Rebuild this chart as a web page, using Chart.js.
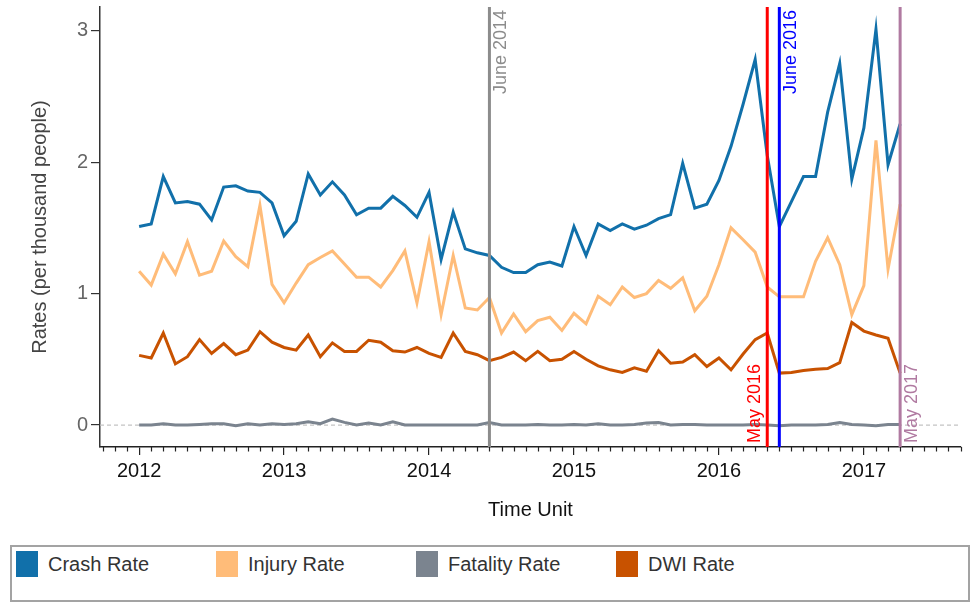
<!DOCTYPE html>
<html>
<head>
<meta charset="utf-8">
<script src="https://cdn.jsdelivr.net/npm/chart.js@4.4.1/dist/chart.umd.min.js"></script>
<style>
  html,body{margin:0;padding:0;background:#fff;}
  #wrap{position:relative;width:971px;height:603px;font-family:"Liberation Sans",Arial,sans-serif;}
  #chart-box{position:absolute;left:0;top:0;width:971px;height:540px;}
  #legend{position:absolute;left:10px;top:545px;width:960px;height:57px;border:2px solid #a3a3a3;box-sizing:border-box;}
  .lg-item{position:absolute;top:4px;height:26px;display:flex;align-items:center;font-size:20px;color:#333;}
  .lg-sw{width:22px;height:26px;margin-right:10px;}
</style>
</head>
<body>
<div id="wrap">
  <div id="chart-box"><canvas id="rateChart"></canvas></div>
  <div id="legend"></div>
</div>
<script>
/* ── DATA ───────────────────────────────────────────────── */
// monthly categories, Jan 2012 .. Apr 2017
const months = [];
for (let y = 2012; y <= 2017; y++) {
  for (let m = 1; m <= 12; m++) {
    if (y === 2017 && m > 4) break;
    months.push(y + '-' + String(m).padStart(2, '0'));
  }
}

const seriesNames = ['Crash Rate', 'Injury Rate', 'Fatality Rate', 'DWI Rate'];

const crashRate = [
  1.51, 1.53, 1.89, 1.69, 1.70, 1.68, 1.56, 1.81, 1.82, 1.78, 1.77, 1.69,
  1.44, 1.55, 1.91, 1.75, 1.85, 1.75, 1.60, 1.65, 1.65, 1.74, 1.67, 1.58,
  1.77, 1.26, 1.62, 1.34, 1.31, 1.29, 1.20, 1.16, 1.16, 1.22, 1.24, 1.21,
  1.51, 1.29, 1.53, 1.48, 1.53, 1.49, 1.52, 1.57, 1.60, 1.99, 1.65, 1.68,
  1.86, 2.12, 2.44, 2.78, 2.05, 1.51, 1.70, 1.89, 1.89, 2.38, 2.75, 1.87,
  2.26, 3.01, 1.98, 2.29
];
const injuryRate = [
  1.17, 1.065, 1.30, 1.15, 1.395, 1.14, 1.17, 1.40, 1.28, 1.205, 1.67, 1.07,
  0.93, 1.08, 1.22, 1.275, 1.325, 1.225, 1.125, 1.125, 1.05, 1.175, 1.325, 0.93,
  1.395, 0.84, 1.29, 0.89, 0.875, 0.97, 0.70, 0.845, 0.71, 0.795, 0.82, 0.72,
  0.85, 0.77, 0.98, 0.915, 1.05, 0.97, 1.00, 1.10, 1.04, 1.12, 0.87, 0.98,
  1.22, 1.50, 1.41, 1.315, 1.05, 0.975, 0.975, 0.975, 1.245, 1.425, 1.22, 0.84,
  1.06, 2.165, 1.185, 1.68
];
const fatalityRate = [
  0.00, 0.00, 0.01, 0.00, 0.00, 0.005, 0.01, 0.01, -0.005, 0.01, 0.00, 0.01,
  0.005, 0.01, 0.025, 0.01, 0.045, 0.02, 0.00, 0.015, 0.00, 0.025, 0.00, 0.00,
  0.00, 0.00, 0.00, 0.00, 0.00, 0.02, 0.00, 0.00, 0.00, 0.005, 0.00, 0.00,
  0.005, 0.00, 0.01, 0.00, 0.00, 0.005, 0.015, 0.02, 0.00, 0.005, 0.005, 0.00,
  0.00, 0.00, 0.00, 0.005, 0.00, -0.005, 0.00, 0.00, 0.00, 0.005, 0.02, 0.005,
  0.00, -0.005, 0.005, 0.005
];
const dwiRate = [
  0.53, 0.51, 0.70, 0.465, 0.52, 0.65, 0.545, 0.62, 0.535, 0.57, 0.71, 0.63,
  0.59, 0.57, 0.685, 0.52, 0.625, 0.56, 0.56, 0.645, 0.63, 0.565, 0.555, 0.59,
  0.545, 0.515, 0.70, 0.56, 0.535, 0.49, 0.515, 0.555, 0.49, 0.56, 0.49, 0.50,
  0.56, 0.50, 0.45, 0.42, 0.40, 0.435, 0.41, 0.565, 0.47, 0.48, 0.535, 0.445,
  0.51, 0.42, 0.54, 0.65, 0.70, 0.395, 0.40, 0.415, 0.425, 0.43, 0.475, 0.78,
  0.715, 0.685, 0.66, 0.395
];

// event markers (label, month it sits on)
const eventLabels = ['June 2014', 'May 2016', 'June 2016', 'May 2017'];
const eventMonths = ['2014-06', '2016-05', '2016-06', '2017-04'];

const yTicks = [0, 1, 2, 3];
const xYears = [2012, 2013, 2014, 2015, 2016, 2017];

/* ── STYLE ──────────────────────────────────────────────── */
const seriesColors = ['#1170aa', '#ffbc79', '#7b848f', '#c85200'];
const eventColors  = ['#8c8c8c', '#ff0000', '#0000ff', '#b07aa1'];
const eventPlace   = [['right','top'], ['left','bottom'], ['right','top'], ['right','bottom']];
const FONT = '"Liberation Sans", Arial, sans-serif';
const X_MIN = 2011.73, X_MAX = 2017.67, Y_MIN = -0.167, Y_MAX = 3.18;

function toYear(s){ const [y, m] = s.split('-').map(Number); return y + (m - 1) / 12; }
function pts(arr){ return arr.map((v, i) => ({ x: toYear(months[i]), y: v })); }

/* ── PLUGIN: minor ticks + event labels ─────────────────── */
const extras = {
  id: 'extras',
  afterDraw(chart){
    const { ctx, chartArea: a, scales: { x } } = chart;
    ctx.save();
    ctx.strokeStyle = '#222';
    ctx.lineWidth = 1.2;
    for (let m = Math.ceil(x.min * 12); m <= Math.floor(x.max * 12); m++) {
      if (m % 12 === 0) continue;
      const px = Math.round(x.getPixelForValue(m / 12)) + 0.5;
      ctx.beginPath(); ctx.moveTo(px, a.bottom); ctx.lineTo(px, a.bottom + 4.5); ctx.stroke();
    }
    ctx.font = '18px ' + FONT;
    eventLabels.forEach((lab, i) => {
      const px = x.getPixelForValue(toYear(eventMonths[i]));
      const [side, end] = eventPlace[i];
      ctx.save();
      ctx.translate(side === 'right' ? px + 3 : px - 3, end === 'top' ? a.top + 3 : a.bottom - 4);
      ctx.rotate(-Math.PI / 2);
      ctx.fillStyle = eventColors[i];
      ctx.textAlign = end === 'top' ? 'right' : 'left';
      ctx.textBaseline = side === 'right' ? 'top' : 'bottom';
      ctx.fillText(lab, 0, 0);
      ctx.restore();
    });
    ctx.restore();
  }
};

/* ── CHART ──────────────────────────────────────────────── */
const eventSets = eventLabels.map((lab, i) => {
  const xv = toYear(eventMonths[i]);
  return { label: lab, data: [{ x: xv, y: Y_MIN }, { x: xv, y: Y_MAX }],
           borderColor: eventColors[i], borderWidth: 3, pointRadius: 0 };
});
const seriesSets = [crashRate, injuryRate, fatalityRate, dwiRate].map((arr, i) => ({
  label: seriesNames[i], data: pts(arr), borderColor: seriesColors[i],
  borderWidth: 3, pointRadius: 0, tension: 0
}));
const zeroSet = { label: 'zero', data: [{ x: X_MIN, y: 0 }, { x: X_MAX, y: 0 }],
  borderColor: '#c4c4c4', borderWidth: 1.2, borderDash: [4, 3], pointRadius: 0 };

new Chart(document.getElementById('rateChart'), {
  type: 'line',
  data: { datasets: [...eventSets, ...seriesSets, zeroSet] },
  options: {
    responsive: true, maintainAspectRatio: false, animation: false,
    layout: { padding: { top: 7, right: 10, left: 0, bottom: 0 } },
    plugins: { legend: { display: false }, tooltip: { enabled: false } },
    scales: {
      x: {
        type: 'linear', min: X_MIN, max: X_MAX,
        afterBuildTicks: s => { s.ticks = xYears.map(v => ({ value: v })); },
        afterFit: s => { s.height = 93; s.paddingLeft = 0; s.paddingRight = 0; },
        grid: { drawOnChartArea: false, tickLength: 8, color: '#222', lineWidth: 1.2 },
        border: { color: '#222', width: 1.5 },
        ticks: { color: '#111', padding: 4, font: { family: FONT, size: 20 }, callback: v => String(v), maxRotation: 0 },
        title: { display: true, text: 'Time Unit', color: '#111', font: { family: FONT, size: 20 }, padding: { top: 0, bottom: 18 } }
      },
      y: {
        min: Y_MIN, max: Y_MAX,
        afterBuildTicks: s => { s.ticks = yTicks.map(v => ({ value: v })); },
        afterFit: s => { s.width = 100; s.paddingTop = 0; s.paddingBottom = 0; },
        grid: { drawOnChartArea: false, tickLength: 9, color: '#333', lineWidth: 1.2 },
        border: { color: '#333', width: 1.5 },
        ticks: { color: '#666', padding: 3, font: { family: FONT, size: 20 } },
        title: { display: true, text: 'Rates (per thousand people)', color: '#444', font: { family: FONT, size: 20 }, padding: { top: 28, bottom: 0 } }
      }
    }
  },
  plugins: [extras]
});

/* ── LEGEND ─────────────────────────────────────────────── */
const lg = document.getElementById('legend');
seriesNames.forEach((n, i) => {
  const d = document.createElement('div');
  d.className = 'lg-item';
  d.style.left = (4 + i * 200) + 'px';
  d.innerHTML = `<span class="lg-sw" style="background:${seriesColors[i]}"></span>${n}`;
  lg.appendChild(d);
});
</script>
</body>
</html>
